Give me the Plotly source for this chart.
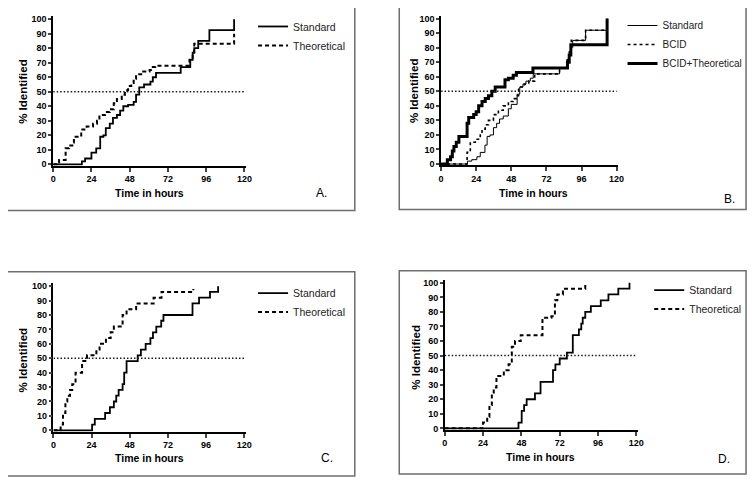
import plotly.graph_objects as go

# ---------------- data (hours, % identified) ----------------
a_std_t = [0, 18, 20, 24, 27, 29.5, 31.5, 33, 35.5, 37.5, 40, 42, 44, 47, 50.5, 52, 54, 57, 61, 62.5, 64.5, 80, 86, 87.5, 88.5, 91, 98, 113.5]
a_std_v = [0, 2, 4, 8, 11, 19, 20, 25, 28, 32, 34, 37, 40, 41, 43, 48, 53, 55, 57, 60, 63, 67, 72, 77, 80, 85, 92.5, 100]
a_the_t = [0, 3.7, 7.8, 10, 12, 13, 17.6, 21, 25, 27.5, 29, 32.5, 35.5, 38, 40, 43, 45, 47, 49, 50.5, 52, 56.5, 60.5, 62.5, 64, 85.5, 87.5, 88.5, 113.5]
a_the_v = [0, 3, 11, 13, 15, 19, 24, 26, 28, 30, 34, 36, 38, 42, 45, 48, 51, 54, 56, 59, 62, 64, 65, 67, 68, 72, 77, 83, 90]

b_std_t = [0, 18, 21, 24.5, 26.8, 30, 31.5, 33.5, 35.8, 38, 40, 42.5, 46, 48, 52, 53.8, 56, 58, 61, 63, 65, 81, 86, 87.5, 88.5, 90, 98.8, 113.5]
b_std_v = [0, 2, 3, 5, 8, 13, 19, 20, 25, 28, 31, 33, 38, 41, 48, 53, 55, 57, 59, 62, 62, 66, 72, 77, 80, 85, 92, 100]
b_bcid_t = [0, 17.8, 20, 23.4, 26.8, 28, 30.2, 32.4, 35.8, 39.2, 42.5, 46, 49.3, 51.5, 53, 57, 60, 64, 81, 86.4, 87.6, 89, 98.8, 113.5]
b_bcid_v = [0, 8, 15, 17, 20, 24, 27, 30, 34, 37, 40, 43, 45, 47, 53, 55, 57, 62, 66, 72, 77, 85, 92, 100]
b_comb_t = [0, 4.3, 6.5, 7.7, 8.8, 10.4, 12.2, 17.8, 18.9, 22.3, 24, 25.7, 28, 30.2, 32.4, 34.7, 37, 43.7, 46, 49.3, 51.5, 62.8, 86.4, 87.6, 88.7, 113.5]
b_comb_v = [0, 3, 5, 9, 12, 15, 19, 28, 32, 34, 36, 40, 43, 45, 47, 50, 53, 58, 59, 61, 63, 66, 70, 75, 82, 100]

c_std_t = [0, 24.3, 26, 32.5, 35.5, 38, 39.5, 41, 43.5, 44.5, 46, 53, 55, 58, 61, 62.6, 64.7, 67.8, 69.2, 87.5, 91.6, 98.5, 103.6]
c_std_v = [0, 4, 8, 12, 16, 20, 24, 28, 32, 40, 48, 52, 56, 60, 64, 68, 72, 76, 80, 88, 92, 96, 100]
c_the_t = [0, 4.5, 6, 7.5, 8.7, 10.4, 11.8, 13.9, 18, 21.1, 27, 29, 33, 36, 38, 43.5, 46, 52, 63, 68, 88]
c_the_v = [0, 4, 12, 20, 24, 28, 32, 40, 48, 52, 56, 60, 64, 68, 72, 80, 84, 88, 92, 96, 98]

d_std_t = [0, 46.2, 48.2, 49.7, 51.3, 56.5, 60, 67.8, 69.3, 72, 76.5, 80.2, 84, 85.5, 86.4, 88, 91.5, 97.7, 102.5, 108.7, 115.7]
d_std_v = [0, 4, 12, 16, 20, 24, 32, 40, 44, 48, 52, 64, 68, 72, 76, 80, 84, 88, 92, 96, 100]
d_the_t = [0, 24, 26.6, 28, 29.5, 30.7, 32.4, 35, 37, 40, 42, 44, 47.6, 61.2, 66.8, 69, 70.5, 74, 88]
d_the_v = [0, 4, 8, 16, 24, 28, 36, 36, 40, 44, 56, 60, 64, 76, 77, 88, 92, 96, 100]

x_ticks = [0, 24, 48, 72, 96, 120]
y_ticks = [0, 10, 20, 30, 40, 50, 60, 70, 80, 90, 100]
threshold = 50
panel_labels = ["A.", "B.", "C.", "D."]

# ---------------- layout helpers ----------------
OFF = 8                      # default page body margin
W, H = 755 - OFF, 483 - OFF  # figure size so it fits the window
FONT = "Liberation Sans, Arial, sans-serif"
XR = [0, 121]
YR = [-1, 102]

def px(x):
    return (x - OFF) / W

def py(y):
    return 1 - (y - OFF) / H

# page-pixel geometry of each panel: x=0, x=120, y=0, y=100 positions
geom = [
    dict(x0=50.7, x120=244.3, y0=164.3, y100=17.3, box=(3, 4, 356, 211),
         xt=(148, 193), yt=(20, 90), lab=(322, 193), leg=(293, 27), lfs=10.5),
    dict(x0=443.3, x120=621, y0=164, y100=16.7, box=(401, 4, 752, 210),
         xt=(537, 193), yt=(416, 90), lab=(735, 199), leg=(667, 26), lfs=10),
    dict(x0=51, x120=244, y0=433.7, y100=287.7, box=(4, 273, 356, 480),
         xt=(148, 462), yt=(20, 362), lab=(328, 462), leg=(293, 297), lfs=10.5),
    dict(x0=447, x120=641, y0=431.7, y100=284.3, box=(401, 272, 752, 478),
         xt=(544, 461), yt=(417, 360), lab=(730, 463), leg=(694, 294), lfs=10.5),
]

fig = go.Figure()

series = [
    [("Standard", a_std_t, a_std_v, "solid", 1.8), ("Theoretical", a_the_t, a_the_v, "4px,3px", 2)],
    [("Standard", b_std_t, b_std_v, "solid", 1), ("BCID", b_bcid_t, b_bcid_v, "3px,3px", 1.6),
     ("BCID+Theoretical", b_comb_t, b_comb_v, "solid", 3)],
    [("Standard", c_std_t, c_std_v, "solid", 1.8), ("Theoretical", c_the_t, c_the_v, "4px,3px", 2)],
    [("Standard", d_std_t, d_std_v, "solid", 1.8), ("Theoretical", d_the_t, d_the_v, "4px,3px", 2)],
]

layout = dict(width=W, height=H, margin=dict(l=0, r=0, t=0, b=0), autosize=False,
              paper_bgcolor="white", plot_bgcolor="white", showlegend=True,
              font=dict(family=FONT, color="black"))
shapes, annotations = [], []

for i, g in enumerate(geom):
    n = "" if i == 0 else str(i + 1)
    xa, ya = "x" + n, "y" + n
    legname = "legend" + n
    sx = (g["x120"] - g["x0"]) / 120.0
    sy = (g["y0"] - g["y100"]) / 100.0
    xl = g["x0"] + XR[0] * sx
    xr = g["x0"] + XR[1] * sx
    yb = g["y0"] - YR[0] * sy
    yt = g["y0"] - YR[1] * sy
    layout["xaxis" + n] = dict(domain=[px(xl), px(xr)], range=XR, anchor=ya,
                               tickvals=x_ticks, ticks="outside", ticklen=4, tickwidth=1.5,
                               showline=True, linecolor="black", linewidth=1.5,
                               showgrid=False, zeroline=False, fixedrange=True,
                               tickfont=dict(size=9, family=FONT, weight="bold"))
    layout["yaxis" + n] = dict(domain=[py(yb), py(yt)], range=YR, anchor=xa,
                               tickvals=y_ticks, ticks="outside", ticklen=3, tickwidth=1.5,
                               showline=True, linecolor="black", linewidth=1.5,
                               showgrid=False, zeroline=False, fixedrange=True,
                               tickfont=dict(size=9, family=FONT, weight="bold"))
    for (name, t, v, dash, w) in series[i]:
        fig.add_trace(go.Scatter(x=t, y=v, mode="lines", name=name, line_shape="hv",
                                 line=dict(color="black", width=w, dash=dash),
                                 xaxis=xa, yaxis=ya, legend=legname))
    shapes.append(dict(type="line", xref=xa, yref=ya, x0=x_ticks[0], x1=x_ticks[-1],
                       y0=threshold, y1=threshold,
                       line=dict(color="#1a1a1a", width=1.5, dash="1.5px,2px")))
    bx0, by0, bx1, by1 = g["box"]
    shapes.append(dict(type="rect", xref="paper", yref="paper",
                       x0=px(bx0), x1=px(bx1), y0=py(by1), y1=py(by0),
                       line=dict(color="#6e6e6e", width=1.5), layer="below"))
    annotations.append(dict(text="Time in hours", xref="paper", yref="paper",
                            x=px(g["xt"][0]), y=py(g["xt"][1]), showarrow=False,
                            xanchor="center", yanchor="middle",
                            font=dict(size=10.5, family=FONT, weight="bold")))
    annotations.append(dict(text="% Identified", xref="paper", yref="paper",
                            x=px(g["yt"][0]), y=py(g["yt"][1]), showarrow=False,
                            textangle=-90, xanchor="center", yanchor="middle",
                            font=dict(size=11.5, family=FONT, weight="bold")))
    annotations.append(dict(text=panel_labels[i], xref="paper", yref="paper",
                            x=px(g["lab"][0]), y=py(g["lab"][1]), showarrow=False,
                            xanchor="center", yanchor="middle",
                            font=dict(size=12, family=FONT)))
    layout[legname] = dict(x=px(g["leg"][0] - 40), y=py(g["leg"][1] - 17),
                           xanchor="left", yanchor="top", bgcolor="rgba(0,0,0,0)",
                           borderwidth=0, itemwidth=30, tracegroupgap=0,
                           font=dict(size=g["lfs"], family=FONT, color="#222222"))

layout["shapes"] = shapes
layout["annotations"] = annotations
fig.update_layout(**layout)
fig.write_html("out.html")
